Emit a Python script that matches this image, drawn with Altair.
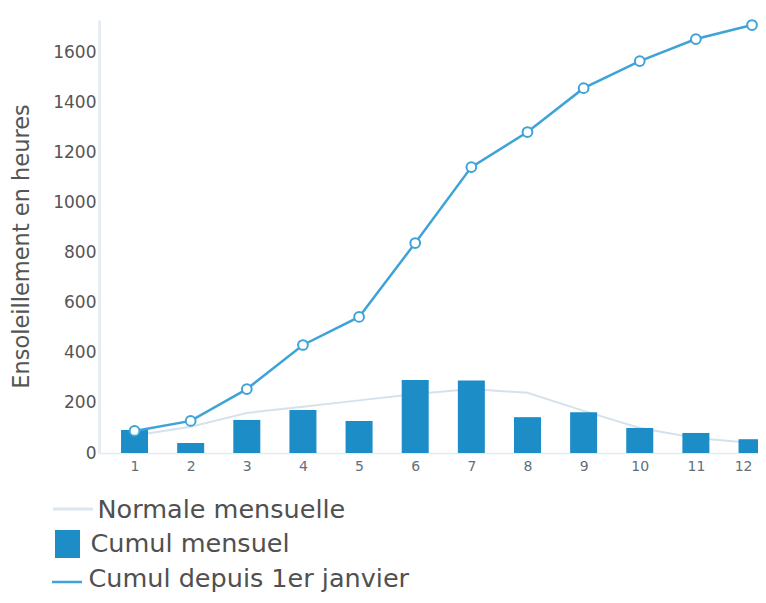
import altair as alt
import pandas as pd

mois = list(range(1, 13))
cumul_mensuel = [92, 40, 132, 172, 128, 291, 289, 143, 163, 100, 80, 55]
normale_mensuelle = [70, 105, 160, 185, 210, 235, 255, 240, 168, 100, 60, 40]
cumul_annuel = [88, 128, 255, 431, 543, 838, 1141, 1281, 1456, 1564, 1652, 1708]
legende = ["Normale mensuelle", "Cumul mensuel", "Cumul depuis 1er janvier"]
y_ticks = [0, 200, 400, 600, 800, 1000, 1200, 1400, 1600]

df = pd.DataFrame({
    "mois": mois,
    "cumul_mensuel": cumul_mensuel,
    "normale": normale_mensuelle,
    "cumul_annuel": cumul_annuel,
})
leg = pd.DataFrame({"label": legende})

FONT = "DejaVu Sans"
BAR = "#1c8dc6"
LINE = "#3ea3d8"
NORM = "#d5e2ec"
GREY = "#555555"

W, H = 659, 433
x_scale = alt.Scale(domain=[0.456, 0.456 + W / 57.0], nice=False, zero=False)
y_scale = alt.Scale(domain=[0, 1728], nice=False, zero=True)

x_axis = alt.Axis(values=mois, format="d", title=None, grid=False, ticks=False,
                  labelPadding=6, labelFontSize=14, labelColor="#5f6f7c",
                  labelAlign=alt.condition("datum.value == 12", alt.value("right"), alt.value("center")),
                  labelFlush=False, labelOverlap=False, labelBound=False, labelFont=FONT,
                  domainColor="#e3e9ee", domainWidth=1.5)
y_axis = alt.Axis(values=y_ticks, format="d", title="Ensoleillement en heures", grid=False, ticks=False,
                  labelPadding=3, labelFontSize=17, labelColor=GREY, labelFont=FONT,
                  labelFlush=False, labelOverlap=False,
                  domainColor="#e6ecf1", domainWidth=3,
                  titleFontSize=22.5, titleColor=GREY, titleFont=FONT, titleFontWeight="normal",
                  titleAngle=270, titleX=-78, titleY=226, titleAlign="center", titleBaseline="middle")


def xy(field):
    return dict(
        x=alt.X("mois:Q", scale=x_scale, axis=x_axis),
        y=alt.Y(f"{field}:Q", scale=y_scale, axis=y_axis),
    )


normale = alt.Chart(df).mark_line(color=NORM, strokeWidth=2, clip=False).encode(**xy("normale"))
bars = alt.Chart(df).mark_bar(size=27, color=BAR, clip=False).encode(**xy("cumul_mensuel"))
cum_line = alt.Chart(df).mark_line(color=LINE, strokeWidth=2.5, clip=False).encode(**xy("cumul_annuel"))
cum_pts = alt.Chart(df).mark_point(shape="circle", filled=True, fill="white", fillOpacity=1,
                                   stroke=LINE, strokeWidth=2, size=95, opacity=1,
                                   clip=False).encode(**xy("cumul_annuel"))

# Legend (drawn below the plot)
tx = [-1.5, -8.5, -10.5]
ty = [498, 532, 567]
texts = [
    alt.Chart(leg.iloc[[i]]).mark_text(align="left", baseline="alphabetic", fontSize=25.5,
                                       color="#505050", font=FONT).encode(
        text="label:N", x=alt.value(tx[i]), y=alt.value(ty[i]))
    for i in range(3)
]
sym_norm = alt.Chart(leg.iloc[[0]]).mark_rule(color="#dce6ee", strokeWidth=3).encode(
    x=alt.value(-46), x2=alt.value(-6), y=alt.value(489))
sym_bar = alt.Chart(leg.iloc[[1]]).mark_rect(color=BAR).encode(
    x=alt.value(-44), x2=alt.value(-19), y=alt.value(510), y2=alt.value(538))
sym_line = alt.Chart(leg.iloc[[2]]).mark_rule(color=LINE, strokeWidth=2.5).encode(
    x=alt.value(-47), x2=alt.value(-17), y=alt.value(562))

chart = alt.layer(normale, bars, cum_line, cum_pts, sym_norm, sym_bar, sym_line, *texts).properties(
    width=W, height=H,
    autosize=alt.AutoSizeParams(type="none"),
    padding={"left": 91, "top": 12, "right": 0, "bottom": 150},
).configure(font=FONT, view=alt.ViewConfig(stroke=None))

chart.save("out.html", embed_options={"renderer": "svg", "actions": False})
